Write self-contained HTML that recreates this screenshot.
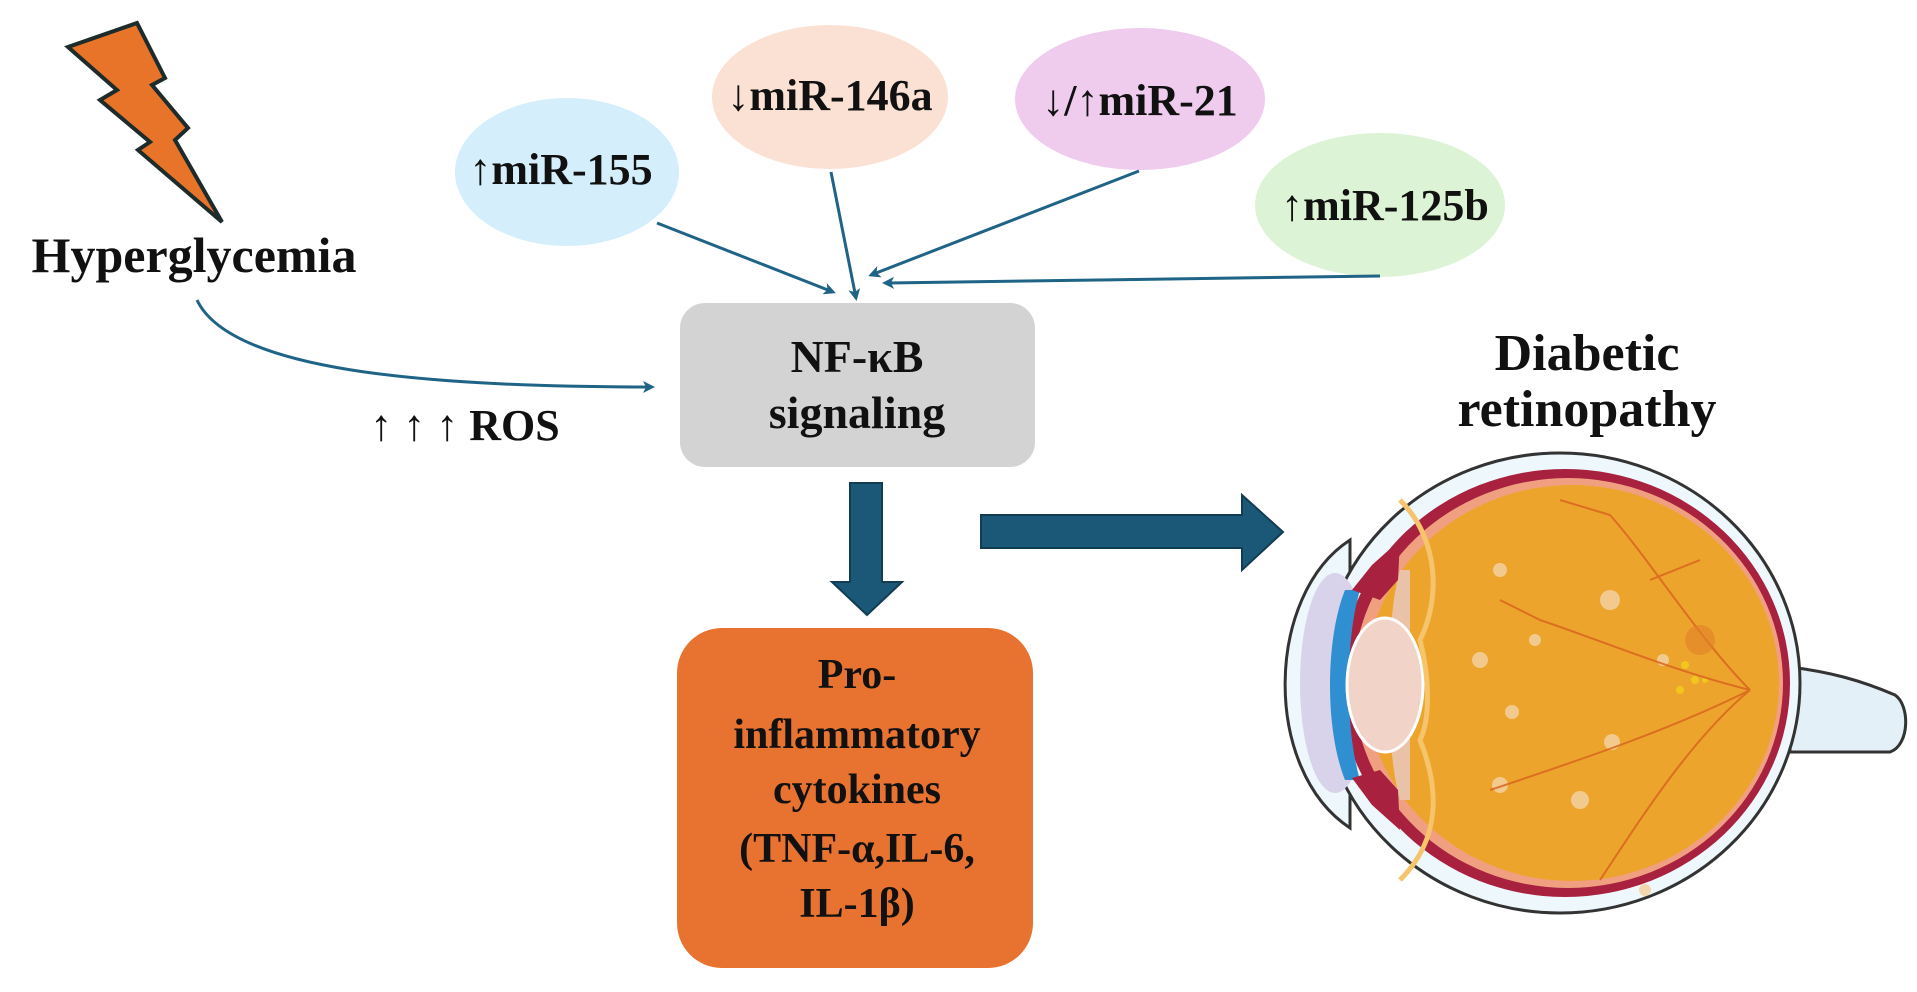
<!DOCTYPE html>
<html><head><meta charset="utf-8"><style>
html,body{margin:0;padding:0;background:#fff;overflow:hidden}
svg{display:block}
text{font-family:"Liberation Serif",serif;font-weight:bold;fill:#111}
</style></head><body>
<svg width="1917" height="992" viewBox="0 0 1917 992" xmlns="http://www.w3.org/2000/svg">
<defs>
<marker id="ah" markerWidth="12" markerHeight="12" refX="9" refY="6" orient="auto" markerUnits="userSpaceOnUse">
<path d="M0,0 L12,6 L0,12 L3,6 Z" fill="#1f6386"/></marker>
</defs>
<!-- lightning -->
<polygon points="68,47 137,23 165,78 152,85 188,128 175,140 222,222 138,150 150,142 100,100 117,90" fill="#e8742a" stroke="#1d2b2b" stroke-width="4" stroke-linejoin="miter"/>
<text x="194" y="272" font-size="50" text-anchor="middle">Hyperglycemia</text>
<!-- curved arrow -->
<path d="M197,300 C230,370 420,387 652,387" fill="none" stroke="#1f6386" stroke-width="3" marker-end="url(#ah)"/>
<text x="465" y="440" font-size="44" text-anchor="middle" font-weight="normal">↑ ↑ ↑ <tspan font-weight="bold">ROS</tspan></text>
<!-- ellipses -->
<ellipse cx="567" cy="172" rx="112" ry="74" fill="#d4eefb"/>
<text x="561" y="184" font-size="44" text-anchor="middle">↑miR-155</text>
<ellipse cx="830" cy="97" rx="118" ry="72" fill="#fbe1d3"/>
<text x="830" y="110" font-size="44" text-anchor="middle">↓miR-146a</text>
<ellipse cx="1140" cy="99" rx="125" ry="71" fill="#efcbee"/>
<text x="1140" y="115" font-size="44" text-anchor="middle">↓/↑miR-21</text>
<ellipse cx="1380" cy="205" rx="125" ry="72" fill="#ddf3d5"/>
<text x="1385" y="220" font-size="44" text-anchor="middle">↑miR-125b</text>
<!-- thin arrows -->
<g stroke="#1f6386" stroke-width="3" fill="none">
<line x1="657" y1="223" x2="833" y2="292" marker-end="url(#ah)"/>
<line x1="831" y1="172" x2="856" y2="298" marker-end="url(#ah)"/>
<line x1="1139" y1="171" x2="871" y2="275" marker-end="url(#ah)"/>
<line x1="1380" y1="276" x2="885" y2="283" marker-end="url(#ah)"/>
</g>
<!-- NF-kB box -->
<rect x="680" y="303" width="355" height="164" rx="25" fill="#d3d3d3"/>
<text x="857" y="372" font-size="46" text-anchor="middle">NF-κB</text>
<text x="857" y="428" font-size="46" text-anchor="middle">signaling</text>
<!-- thick arrows -->
<polygon points="850,483 882,483 882,582 902,582 867,615 832,582 850,582" fill="#1b5878" stroke="#123c52" stroke-width="2"/>
<polygon points="981,515 1242,515 1242,495 1283,532 1242,570 1242,548 981,548" fill="#1b5878" stroke="#123c52" stroke-width="2"/>
<!-- orange box -->
<rect x="677" y="628" width="356" height="340" rx="45" fill="#e87330"/>
<g font-size="42" text-anchor="middle">
<text x="857" y="688">Pro-</text>
<text x="857" y="748">inflammatory</text>
<text x="857" y="803">cytokines</text>
<text x="857" y="862">(TNF-α,IL-6,</text>
<text x="857" y="917">IL-1β)</text>
</g>
<text x="1587" y="370" font-size="52" text-anchor="middle">Diabetic</text>
<text x="1587" y="426" font-size="52" text-anchor="middle">retinopathy</text>
<!-- eye -->
<path d="M1790,667 C1830,672 1860,680 1895,695 C1910,705 1910,745 1890,752 L1790,752 Z" fill="#e4f0f7" stroke="#333" stroke-width="3"/>
<path d="M1350,540 C1265,595 1262,770 1350,828 Z" fill="#eef7fb" stroke="#333" stroke-width="3"/>
<ellipse cx="1560" cy="683" rx="240" ry="230" fill="#eef7fb" stroke="#333" stroke-width="3"/>
<ellipse cx="1335" cy="683" rx="35" ry="110" fill="#d8d3ea"/>
<ellipse cx="1565" cy="683" rx="225" ry="214" fill="#a8213f"/>
<ellipse cx="1568" cy="683" rx="215" ry="205" fill="#f0a080"/>
<ellipse cx="1572" cy="683" rx="207" ry="198" fill="#eda42c"/>
<path d="M1345,590 C1325,640 1325,730 1345,780 L1360,780 C1345,730 1345,640 1360,590 Z" fill="#2f8fd0"/>
<path d="M1400,570 C1385,620 1385,750 1400,800 L1410,800 L1410,570 Z" fill="#e9c2a8"/>
<path d="M1352,590 L1372,565 L1400,540 L1398,580 L1380,600 Z" fill="#a8213f"/>
<path d="M1352,778 L1372,805 L1400,830 L1398,790 L1380,770 Z" fill="#a8213f"/>
<ellipse cx="1385" cy="685" rx="38" ry="67" fill="#f1d3c8" stroke="#fff" stroke-width="3"/>
<path d="M1400,500 C1440,540 1440,600 1420,640 C1430,680 1430,720 1420,740 C1440,790 1440,840 1400,880" fill="none" stroke="#f5c46b" stroke-width="5"/>
<g fill="#f3d1a0" opacity="0.85">
<circle cx="1500" cy="570" r="7"/><circle cx="1610" cy="600" r="10"/><circle cx="1535" cy="640" r="6"/>
<circle cx="1480" cy="660" r="8"/><circle cx="1512" cy="712" r="7"/><circle cx="1612" cy="742" r="8"/>
<circle cx="1580" cy="800" r="9"/><circle cx="1500" cy="785" r="8"/><circle cx="1663" cy="660" r="6"/>
<circle cx="1645" cy="890" r="6"/>
</g>
<g fill="#f1c61e"><circle cx="1685" cy="665" r="4"/><circle cx="1695" cy="680" r="4"/><circle cx="1680" cy="690" r="4"/><circle cx="1705" cy="680" r="3"/></g>
<g stroke="#d8651e" stroke-width="2" fill="none" opacity="0.85">
<path d="M1750,690 C1700,640 1650,560 1610,515"/><path d="M1750,690 C1690,740 1640,820 1600,880"/>
<path d="M1750,690 C1670,670 1600,640 1540,620"/><path d="M1750,690 C1670,730 1580,760 1490,790"/>
<path d="M1610,515 L1560,500"/><path d="M1650,580 L1700,560"/><path d="M1540,620 L1500,600"/>
</g>
<circle cx="1700" cy="640" r="15" fill="#e0802a" opacity="0.6"/>
</svg>
</body></html>
